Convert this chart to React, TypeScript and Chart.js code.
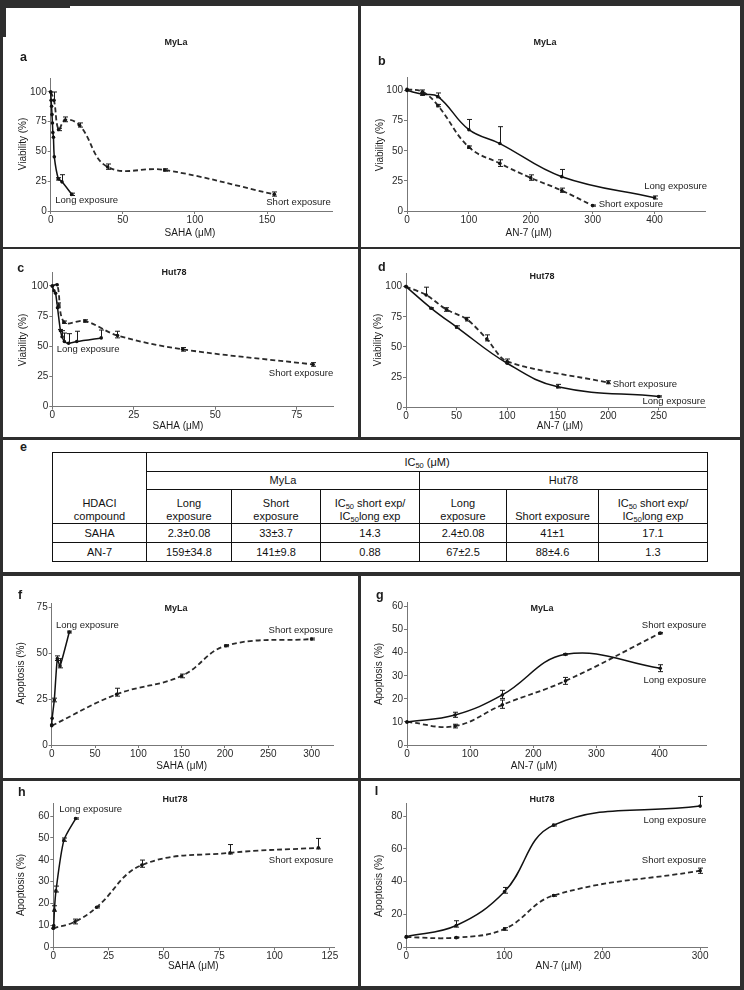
import React, { useEffect, useRef } from "react";
import { Chart, registerables } from "chart.js";
Chart.register(...registerables);

const FONT = '"Liberation Sans", Arial, Helvetica, sans-serif';
Chart.defaults.font.family = FONT;

// ---------- tick labels ----------
const viabTicks = [0, 25, 50, 75, 100];
const aXTicks = [0, 50, 100, 150];
const bXTicks = [0, 100, 200, 300, 400];
const cXTicks = [0, 25, 50, 75];
const dXTicks = [0, 50, 100, 150, 200, 250];
const fXTicks = [0, 50, 100, 150, 200, 250, 300];
const fYTicks = [0, 25, 50, 75];
const gXTicks = [0, 100, 200, 300, 400];
const gYTicks = [0, 10, 20, 30, 40, 50, 60];
const hXTicks = [0, 25, 50, 75, 100, 125];
const hYTicks = [0, 10, 20, 30, 40, 50, 60];
const iXTicks = [0, 100, 200, 300];
const iYTicks = [0, 20, 40, 60, 80];

// ---------- a: MyLa, SAHA, viability ----------
const aLongX = [0, 0.3, 0.6, 0.9, 1.2, 1.5, 1.9, 2.5, 5.3, 7.8, 14.6];
const aLongY = [100, 93, 88, 81, 74, 66, 62, 45.5, 27, 24.5, 14];
const aLongUp = [0, 0, 0, 0, 0, 0, 0, 0, 1, 6, 1];
const aLongDn = [0, 0, 0, 0, 0, 0, 0, 0, 1, 0, 1];
const aShortX = [0, 2.3, 5.5, 10, 20, 39.5, 79, 155];
const aShortY = [100, 93, 68.5, 76.5, 72, 37, 34.5, 14];
const aShortUp = [0, 7, 1, 2.5, 2, 2.5, 1, 2];
const aShortDn = [0, 0, 1, 1.5, 1.5, 2, 1, 1.5];

// ---------- b: MyLa, AN-7, viability ----------
const bLongX = [0, 25, 50, 100, 150, 250, 400];
const bLongY = [100, 97, 95, 67.5, 56, 28.5, 11];
const bLongUp = [0, 1, 3, 8.5, 14, 6, 1.5];
const bLongDn = [0, 1, 1, 0, 0, 0, 1];
const bShortX = [0, 25, 50, 100, 150, 200, 250, 300];
const bShortY = [101, 99, 87.5, 53, 39.5, 27.5, 17, 4.5];
const bShortUp = [0, 1.5, 1, 1, 3, 2.5, 2, 0.5];
const bShortDn = [0, 1, 1, 1, 2.5, 2, 1.5, 0.5];

// ---------- c: Hut78, SAHA, viability ----------
const cLongX = [0, 0.5, 1, 1.6, 2.5, 3, 3.7, 5, 7.5, 15];
const cLongY = [100, 96, 94, 82, 63, 58, 54, 52.5, 54, 57];
const cLongUp = [0, 0, 0, 4, 1, 5, 7, 8, 8.5, 6.5];
const cLongDn = [0, 0, 0, 0, 0, 0, 0, 0, 0, 0];
const cShortX = [0, 1.5, 3.6, 10, 20, 40, 80];
const cShortY = [100, 101, 70, 71, 59, 47.5, 35];
const cShortUp = [0, 0, 1, 1, 3.5, 1.5, 1.5];
const cShortDn = [0, 0, 1, 1, 2, 1.5, 1.5];

// ---------- d: Hut78, AN-7, viability ----------
const dLongX = [0, 25, 50, 100, 150, 250];
const dLongY = [100, 82, 66.5, 36.5, 17, 9];
const dLongUp = [0, 0.5, 1, 0, 2, 0.5];
const dLongDn = [0, 0.5, 1, 0, 1, 0.5];
const dShortX = [0, 20, 40, 60, 80, 100, 200];
const dShortY = [100, 93, 81, 73, 56.5, 38, 20.5];
const dShortUp = [0, 6.5, 1.5, 1.5, 3.5, 2, 1.5];
const dShortDn = [0, 0, 1.5, 1.5, 1.5, 1, 1];

// ---------- f: MyLa, SAHA, apoptosis ----------
const fLongX = [0, 0.5, 3, 6.5, 9.6, 20.3];
const fLongY = [11, 14.5, 24.5, 47, 43, 61.5];
const fLongUp = [0, 0, 1, 1.5, 4, 0.5];
const fLongDn = [0, 0, 1, 1, 1, 0.5];
const fShortX = [0, 75, 150, 201, 300];
const fShortY = [10.5, 27.6, 37.6, 54, 57.7];
const fShortUp = [0, 3.3, 1, 0.5, 0.5];
const fShortDn = [0, 1, 1, 0.5, 0.5];

// ---------- g: MyLa, AN-7, apoptosis ----------
const gLongX = [0, 76, 151, 251, 401];
const gLongY = [10, 13, 21.7, 39.3, 33.3];
const gLongUp = [0, 1.2, 2, 0.3, 1.5];
const gLongDn = [0, 1, 1.5, 0.3, 1.5];
const gShortX = [0, 76, 151, 251, 401];
const gShortY = [10, 8.2, 17.4, 27.8, 48.5];
const gShortUp = [0, 0.8, 2.1, 1.5, 0.3];
const gShortDn = [0, 0.8, 1.5, 1.5, 0.3];

// ---------- h: Hut78, SAHA, apoptosis ----------
const hLongX = [0, 0.2, 0.5, 1.2, 4.8, 10.1];
const hLongY = [8.7, 9.9, 17, 25.8, 49, 58.9];
const hLongUp = [0, 0, 2, 2.2, 1, 0.3];
const hLongDn = [0, 0, 0.5, 0.5, 0.5, 0.3];
const hShortX = [0, 9.8, 19.6, 40, 79.9, 119.8];
const hShortY = [8.7, 11.7, 18.3, 37.6, 43.2, 45.5];
const hShortUp = [0, 1.2, 0.3, 2.3, 3.8, 4.3];
const hShortDn = [0, 1, 0.3, 1, 0.5, 0.5];

// ---------- i: Hut78, AN-7, apoptosis ----------
const iLongX = [0, 51, 100.4, 150.4, 300];
const iLongY = [6.5, 13.3, 34, 74.5, 86.1];
const iLongUp = [0, 2.9, 2.5, 0.5, 5.9];
const iLongDn = [0, 1, 1, 0.5, 0];
const iShortX = [0, 51, 100.4, 150.4, 300];
const iShortY = [6.2, 5.9, 11.2, 31.6, 46.7];
const iShortUp = [0, 0.3, 0.8, 0.5, 1.6];
const iShortDn = [0, 0.3, 0.8, 0.5, 1.6];

// ---------- table e ----------
const tableHead = ["Long\nexposure", "Short\nexposure", "IC50 ratio", "Long\nexposure", "Short exposure", "IC50 ratio"];
const sahaRow = ["SAHA", "2.3±0.08", "33±3.7", "14.3", "2.4±0.08", "41±1", "17.1"];
const an7Row = ["AN-7", "159±34.8", "141±9.8", "0.88", "67±2.5", "88±4.6", "1.3"];

type Series = { x: number[]; y: number[]; up: number[]; dn: number[]; tension: number };
type Txt = { t: string; x: number; y: number; font: string; align?: CanvasTextAlign; rot?: boolean };
type PanelCfg = {
  left: number; top: number; w: number; h: number;
  area: { l: number; r: number; t: number; b: number };
  xMax: number; yMax: number; xTicks: number[]; yTicks: number[];
  long: Series; short: Series; texts: Txt[];
};

const YW = 30;
const XH = 20;
const F_LET = `bold 12.5px ${FONT}`;
const F_TIT = `bold 9px ${FONT}`;
const F_AX = `10px ${FONT}`;
const F_LAB = `9.5px ${FONT}`;

function S(x: number[], y: number[], up: number[], dn: number[], tension = 0.4): Series {
  return { x, y, up, dn, tension };
}

function txts(letter: [string, number, number], title: [string, number, number], xt: [string, number, number], yt: [string, number, number], labels: [string, number, number, CanvasTextAlign][]): Txt[] {
  return [
    { t: letter[0], x: letter[1], y: letter[2], font: F_LET, align: "left" },
    { t: title[0], x: title[1], y: title[2], font: F_TIT, align: "center" },
    { t: xt[0], x: xt[1], y: xt[2], font: F_AX, align: "center" },
    { t: yt[0], x: yt[1], y: yt[2], font: F_AX, align: "center", rot: true },
    ...labels.map(l => ({ t: l[0], x: l[1], y: l[2], font: F_LAB, align: l[3] })),
  ];
}

const VIAB = "Viability (%)";
const APO = "Apoptosis (%)";
const SAHA = "SAHA (μM)";
const AN7 = "AN-7 (μM)";
const LE = "Long exposure";
const SE = "Short exposure";

const panels: PanelCfg[] = [
  {
    left: 3, top: 6, w: 355, h: 241, area: { l: 47.7, r: 329, t: 72.3, b: 205 }, xMax: 195, yMax: 111.5,
    xTicks: aXTicks, yTicks: viabTicks,
    long: S(aLongX, aLongY, aLongUp, aLongDn, 0.25), short: S(aShortX, aShortY, aShortUp, aShortDn),
    texts: txts(["a", 17, 52], ["MyLa", 173, 37], [SAHA, 187, 227], [VIAB, 20.7, 138], [[LE, 52.3, 194, "left"], [SE, 327.7, 196.7, "right"]]),
  },
  {
    left: 361, top: 6, w: 379, h: 241, area: { l: 46, r: 344.3, t: 71.3, b: 205 }, xMax: 482, yMax: 111,
    xTicks: bXTicks, yTicks: viabTicks,
    long: S(bLongX, bLongY, bLongUp, bLongDn), short: S(bShortX, bShortY, bShortUp, bShortDn),
    texts: txts(["b", 17, 55.7], ["MyLa", 184, 37], [AN7, 167.7, 227], [VIAB, 19.3, 139], [[LE, 346, 180.7, "right"], [SE, 237.7, 198.7, "left"]]),
  },
  {
    left: 3, top: 249, w: 355, h: 188, area: { l: 49.3, r: 330.3, t: 23.7, b: 157.7 }, xMax: 86.2, yMax: 111,
    xTicks: cXTicks, yTicks: viabTicks,
    long: S(cLongX, cLongY, cLongUp, cLongDn, 0.25), short: S(cShortX, cShortY, cShortUp, cShortDn, 0.35),
    texts: txts(["c", 14.3, 20], ["Hut78", 171, 24], [SAHA, 175, 177.7], [VIAB, 20.7, 91], [[LE, 53.7, 100, "left"], [SE, 330.3, 124.3, "right"]]),
  },
  {
    left: 361, top: 249, w: 379, h: 188, area: { l: 45, r: 344.3, t: 24.3, b: 158.3 }, xMax: 296, yMax: 111,
    xTicks: dXTicks, yTicks: viabTicks,
    long: S(dLongX, dLongY, dLongUp, dLongDn), short: S(dShortX, dShortY, dShortUp, dShortDn, 0.3),
    texts: txts(["d", 17, 19], ["Hut78", 181, 27.7], [AN7, 199, 177.7], [VIAB, 17.3, 91], [[SE, 251.7, 135.3, "left"], [LE, 344.3, 152, "right"]]),
  },
  {
    left: 3, top: 576, w: 355, h: 202, area: { l: 48.7, r: 330.3, t: 27, b: 169 }, xMax: 325, yMax: 77.3,
    xTicks: fXTicks, yTicks: fYTicks,
    long: S(fLongX, fLongY, fLongUp, fLongDn, 0.15), short: S(fShortX, fShortY, fShortUp, fShortDn),
    texts: txts(["f", 15, 20], ["MyLa", 173, 33], [SAHA, 178.7, 190.7], [APO, 18, 97.3], [[LE, 53, 49, "left"], [SE, 330, 54.7, "right"]]),
  },
  {
    left: 361, top: 576, w: 379, h: 202, area: { l: 46, r: 345.3, t: 26, b: 169 }, xMax: 474, yMax: 62,
    xTicks: gXTicks, yTicks: gYTicks,
    long: S(gLongX, gLongY, gLongUp, gLongDn), short: S(gShortX, gShortY, gShortUp, gShortDn),
    texts: txts(["g", 15, 20], ["MyLa", 181, 33], [AN7, 173, 190.7], [APO, 18.5, 98], [[SE, 345.3, 49, "right"], [LE, 345.3, 104, "right"]]),
  },
  {
    left: 3, top: 781, w: 355, h: 205, area: { l: 50.3, r: 331.3, t: 22, b: 166.3 }, xMax: 127, yMax: 66,
    xTicks: hXTicks, yTicks: hYTicks,
    long: S(hLongX, hLongY, hLongUp, hLongDn, 0.25), short: S(hShortX, hShortY, hShortUp, hShortDn),
    texts: txts(["h", 15, 11.5], ["Hut78", 172, 19], [SAHA, 190.3, 185.7], [APO, 18, 104], [[LE, 56.3, 28, "left"], [SE, 330.3, 79, "right"]]),
  },
  {
    left: 361, top: 781, w: 379, h: 205, area: { l: 45.3, r: 346, t: 22, b: 166.3 }, xMax: 307, yMax: 88,
    xTicks: iXTicks, yTicks: iYTicks,
    long: S(iLongX, iLongY, iLongUp, iLongDn), short: S(iShortX, iShortY, iShortUp, iShortDn),
    texts: txts(["I", 13.7, 11], ["Hut78", 181, 19], [AN7, 197.7, 185.7], [APO, 18.5, 104.8], [[LE, 345.3, 39, "right"], [SE, 345.3, 79, "right"]]),
  },
];

function Panel({ cfg }: { cfg: PanelCfg }) {
  const ref = useRef<HTMLCanvasElement | null>(null);
  useEffect(() => {
    if (!ref.current) return;
    const sets = [cfg.long, cfg.short];
    const errPlugin = {
      id: "errbars",
      afterDatasetsDraw(chart: any) {
        const { ctx } = chart;
        const xs = chart.scales.x, ys = chart.scales.y;
        ctx.save();
        ctx.strokeStyle = "#1a1a1a";
        ctx.lineWidth = 1;
        sets.forEach(s => s.x.forEach((xv, i) => {
          const u = s.up[i], d = s.dn[i];
          if (!u && !d) return;
          const px = Math.round(xs.getPixelForValue(xv)) + 0.5;
          const yt = ys.getPixelForValue(s.y[i] + u);
          const yb = ys.getPixelForValue(s.y[i] - d);
          ctx.beginPath();
          ctx.moveTo(px, yt); ctx.lineTo(px, yb);
          if (u) { ctx.moveTo(px - 2.5, yt); ctx.lineTo(px + 2.5, yt); }
          if (d) { ctx.moveTo(px - 2.5, yb); ctx.lineTo(px + 2.5, yb); }
          ctx.stroke();
        }));
        ctx.restore();
      },
    };
    const textPlugin = {
      id: "texts",
      afterDraw(chart: any) {
        const { ctx } = chart;
        ctx.save();
        ctx.fillStyle = "#1c1c1c";
        ctx.textBaseline = "middle";
        cfg.texts.forEach(t => {
          ctx.font = t.font;
          ctx.textAlign = t.align || "left";
          if (t.rot) {
            ctx.save();
            ctx.translate(t.x, t.y);
            ctx.rotate(-Math.PI / 2);
            ctx.fillText(t.t, 0, 0);
            ctx.restore();
          } else {
            ctx.fillText(t.t, t.x, t.y);
          }
        });
        ctx.restore();
      },
    };
    const axis = (ticks: number[], max: number, isX: boolean) => ({
      type: "linear",
      min: 0,
      max,
      afterBuildTicks: (s: any) => { s.ticks = ticks.map(v => ({ value: v })); },
      afterFit: (s: any) => { if (isX) s.height = XH; else s.width = YW; },
      grid: { display: true, drawOnChartArea: false, drawTicks: true, tickLength: 3, color: "#777", lineWidth: 1 },
      border: { display: true, color: "#777", width: 1 },
      ticks: { font: { size: 10, family: FONT }, color: "#2a2a2a", padding: isX ? 0 : 1, maxRotation: 0, autoSkip: false },
    });
    const { area, w, h } = cfg;
    const chart = new Chart(ref.current, {
      type: "line",
      data: {
        datasets: [
          {
            data: cfg.long.x.map((x, i) => ({ x, y: cfg.long.y[i] })),
            borderColor: "#111", borderWidth: 1.5, tension: cfg.long.tension,
            pointRadius: 1.8, pointBackgroundColor: "#111", pointBorderWidth: 0, fill: false, clip: false,
          },
          {
            data: cfg.short.x.map((x, i) => ({ x, y: cfg.short.y[i] })),
            borderColor: "#2a2a2a", borderWidth: 1.8, borderDash: [5, 3], tension: cfg.short.tension,
            pointRadius: 1.8, pointBackgroundColor: "#111", pointBorderWidth: 0, fill: false, clip: false,
          },
        ],
      } as any,
      options: {
        responsive: false,
        animation: false,
        devicePixelRatio: 1,
        layout: { padding: { left: area.l - YW, right: w - area.r, top: area.t, bottom: h - area.b - XH } },
        plugins: { legend: { display: false }, tooltip: { enabled: false } },
        events: [],
        scales: {
          x: axis(cfg.xTicks, cfg.xMax, true),
          y: axis(cfg.yTicks, cfg.yMax, false),
        },
      } as any,
      plugins: [errPlugin, textPlugin],
    });
    return () => chart.destroy();
  }, [cfg]);
  return (
    <div style={{ position: "absolute", left: cfg.left, top: cfg.top, width: cfg.w, height: cfg.h, background: "#fff" }}>
      <canvas ref={ref} width={cfg.w} height={cfg.h} style={{ display: "block" }} />
    </div>
  );
}

const IC = () => (<span>IC<sub style={{ fontSize: 7.5, lineHeight: 0, verticalAlign: "-2px" }}>50</sub></span>);

function headCell(s: string, i: number) {
  const style: React.CSSProperties = { border: "1px solid #111", verticalAlign: "bottom", padding: 0, lineHeight: "13px" };
  if (s === "IC50 ratio") {
    return <td key={i} style={style}><IC /> short exp/<br /><IC />long exp</td>;
  }
  const parts = s.split("\n");
  return <td key={i} style={style}>{parts.map((p, k) => <React.Fragment key={k}>{k > 0 && <br />}{p}</React.Fragment>)}</td>;
}

function Table() {
  const cell: React.CSSProperties = { border: "1px solid #111", padding: 0, verticalAlign: "middle" };
  return (
    <table style={{ position: "absolute", left: 52, top: 452, width: 655, borderCollapse: "collapse", tableLayout: "fixed", fontFamily: FONT, fontSize: 11, color: "#111", textAlign: "center", lineHeight: "13px" }}>
      <colgroup>
        <col style={{ width: 94 }} /><col style={{ width: 85 }} /><col style={{ width: 89 }} /><col style={{ width: 99 }} />
        <col style={{ width: 87 }} /><col style={{ width: 92 }} /><col style={{ width: 109 }} />
      </colgroup>
      <tbody>
        <tr style={{ height: 19 }}>
          <td rowSpan={3} style={{ ...cell, verticalAlign: "bottom" }}>HDACI<br />compound</td>
          <td colSpan={6} style={cell}><IC /> (μM)</td>
        </tr>
        <tr style={{ height: 18 }}>
          <td colSpan={3} style={cell}>MyLa</td>
          <td colSpan={3} style={cell}>Hut78</td>
        </tr>
        <tr style={{ height: 34 }}>{tableHead.map((s, i) => headCell(s, i))}</tr>
        <tr style={{ height: 19 }}>{sahaRow.map((s, i) => <td key={i} style={cell}>{s}</td>)}</tr>
        <tr style={{ height: 19 }}>{an7Row.map((s, i) => <td key={i} style={cell}>{s}</td>)}</tr>
      </tbody>
    </table>
  );
}

export default function App() {
  return (
    <div style={{ position: "absolute", left: 0, top: 0, width: 744, height: 990, background: "#2e2e2e", overflow: "hidden" }}>
      {panels.map((p, i) => <Panel key={i} cfg={p} />)}
      <div style={{ position: "absolute", left: 3, top: 440, width: 737, height: 132, background: "#fff" }}>
        <div style={{ position: "absolute", left: 17, top: 0, fontFamily: FONT, fontWeight: "bold", fontSize: 12.5, color: "#1c1c1c" }}>e</div>
      </div>
      <Table />
      <div style={{ position: "absolute", left: 0, top: 0, width: 70, height: 8, background: "#2e2e2e" }} />
      <div style={{ position: "absolute", left: 0, top: 0, width: 6, height: 37, background: "#2e2e2e" }} />
    </div>
  );
}
